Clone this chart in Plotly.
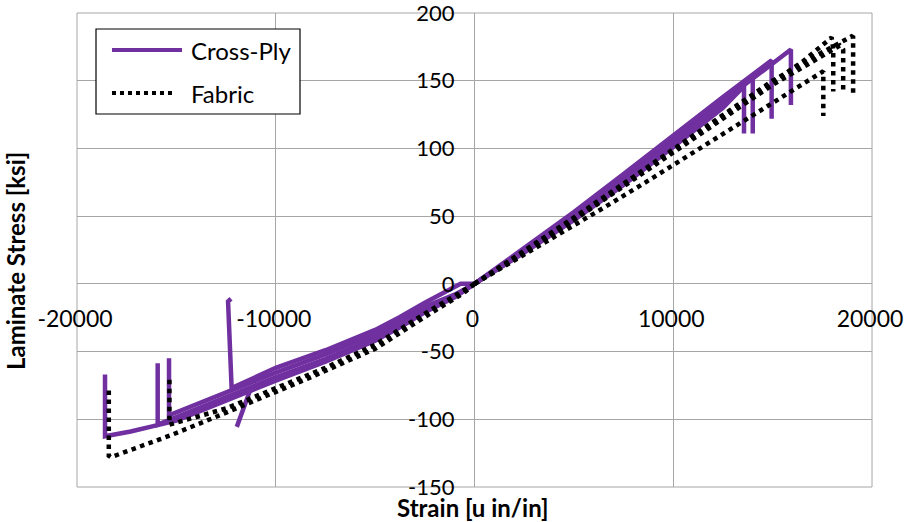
import plotly.graph_objects as go

PURPLE = "#7030A0"
BLACK = "#000000"
GRID = "#A6A6A6"
FONT = "Lato"

# Axis ticks
x_ticks = [-20000, -10000, 0, 10000, 20000]
y_ticks = [-150, -100, -50, 0, 50, 100, 150, 200]

# Cross-ply specimens, tension (strain [u in/in], stress [ksi])
xp_t1_strain = [0, 2500, 5000, 7500, 10000, 12500, 14950, 15920, 15920]
xp_t1_stress = [0, 25, 51, 79, 107, 135, 163, 173, 132]
xp_t2_strain = [0, 2500, 5000, 7500, 10000, 12500, 14950, 14950]
xp_t2_stress = [0, 26, 53, 81, 110, 138, 165, 122]
xp_t3_strain = [0, 2500, 5000, 7500, 10000, 12500, 14000, 14000]
xp_t3_stress = [0, 24, 49, 76, 104, 133, 153, 111]
xp_t4_strain = [0, 2500, 5000, 7500, 10000, 12500, 13560, 13560]
xp_t4_stress = [0, 23, 47, 73, 101, 130, 146, 111]

# Cross-ply specimens, compression
xp_c1_strain = [0, -1000, -2500, -3750, -5000, -7500, -10000, -12500, -15000, -16000, -17300, -18590, -18590]
xp_c1_stress = [0, -10, -21, -32, -42, -57.5, -71.5, -86.5, -101, -104.5, -109, -112.5, -67]
xp_c2_strain = [0, -1000, -2500, -3750, -5000, -7500, -10000, -12500, -15000, -15940, -15940]
xp_c2_stress = [0, -9, -19, -30, -40, -55.5, -69, -84, -99, -104, -58.6]
xp_c3_strain = [0, -1000, -2500, -3750, -5000, -7500, -10000, -12500, -15370, -15370]
xp_c3_stress = [0, -8, -17, -27.5, -37, -52, -65.5, -80.5, -97, -55]
xp_c4_strain = [0, -700, -2500, -3750, -5000, -7500, -10000, -12220, -12400, -12250]
xp_c4_stress = [0, 0, -14, -24.5, -34, -49, -62, -77, -13, -11]
xp_c5_strain = [0, -1000, -2500, -3750, -5000, -7500, -10000, -11300, -11960]
xp_c5_stress = [0, -9, -20, -31, -41, -56.5, -70, -79, -105.6]

# Fabric specimens, tension
fb_t1_strain = [0, 2000, 4130, 6480, 8500, 10340, 12500, 15200, 17550, 17550]
fb_t1_stress = [0, 17, 36, 56, 74, 91, 111, 135, 157, 124]
fb_t2_strain = [0, 2500, 5000, 7500, 10000, 12500, 15000, 16500, 17970, 18050, 18050]
fb_t2_stress = [0, 23, 48, 73, 98, 123, 149, 164, 182, 173, 142]
fb_t3_strain = [0, 2500, 5000, 7500, 10000, 12500, 15000, 17000, 18380, 18550, 18550]
fb_t3_stress = [0, 23, 47, 72, 97, 122, 147, 164, 176, 173, 142]
fb_t4_strain = [0, 2500, 5000, 7500, 10000, 12500, 15000, 17000, 18970, 19050, 19050]
fb_t4_stress = [0, 24, 49, 74, 99, 124, 150, 167, 182.7, 182, 139.6]

# Fabric specimens, compression
fb_c1_strain = [0, -560, -2240, -5000, -8400, -10790, -13140, -15320, -17000, -18300, -18400, -18400]
fb_c1_stress = [0, -7, -22, -48, -70, -85, -99, -112, -121, -128, -127, -77]
fb_c2_strain = [0, -2500, -5000, -7500, -10000, -12500, -15350, -15350]
fb_c2_stress = [0, -22, -45, -62, -77, -92, -104, -70]

cross_ply = [
    (xp_t1_strain, xp_t1_stress), (xp_t2_strain, xp_t2_stress),
    (xp_t3_strain, xp_t3_stress), (xp_t4_strain, xp_t4_stress),
    (xp_c1_strain, xp_c1_stress), (xp_c2_strain, xp_c2_stress),
    (xp_c3_strain, xp_c3_stress), (xp_c4_strain, xp_c4_stress),
    (xp_c5_strain, xp_c5_stress),
]
fabric = [
    (fb_t1_strain, fb_t1_stress), (fb_t2_strain, fb_t2_stress),
    (fb_t3_strain, fb_t3_stress), (fb_t4_strain, fb_t4_stress),
    (fb_c1_strain, fb_c1_stress), (fb_c2_strain, fb_c2_stress),
]

fig = go.Figure()

for sx, sy in cross_ply:
    fig.add_trace(go.Scatter(
        x=sx, y=sy, mode="lines", name="Cross-Ply", legendgroup="xp",
        showlegend=False, line=dict(color=PURPLE, width=4.5),
    ))

for sx, sy in fabric:
    fig.add_trace(go.Scatter(
        x=sx, y=sy, mode="lines", name="Fabric", legendgroup="fb",
        showlegend=False, line=dict(color=BLACK, width=4.5, dash="dot"),
    ))

# Plot-area border in gridline grey
fig.add_shape(type="rect", xref="x domain", yref="y domain",
              x0=0, x1=1, y0=0, y1=1, line=dict(color=GRID, width=1), layer="below")

# Legend box drawn in axis-domain coordinates
fig.add_shape(type="rect", xref="x domain", yref="y domain",
              x0=0.0239, x1=0.2805, y0=0.7869, y1=0.9662,
              line=dict(color=BLACK, width=1.2), fillcolor="white", layer="above")
fig.add_shape(type="line", xref="x domain", yref="y domain",
              x0=0.044, x1=0.1321, y0=0.9219, y1=0.9219,
              line=dict(color=PURPLE, width=4), layer="above")
fig.add_shape(type="line", xref="x domain", yref="y domain",
              x0=0.044, x1=0.122, y0=0.8312, y1=0.8312,
              line=dict(color=BLACK, width=4, dash="dot"), layer="above")
for label, yy in (("Cross-Ply", 0.9219), ("Fabric", 0.8312)):
    fig.add_annotation(text=label, xref="x domain", yref="y domain",
                       x=0.1409, y=yy, xanchor="left", yanchor="middle",
                       showarrow=False, font=dict(family=FONT, size=24, color=BLACK))

# Axis titles
fig.add_annotation(text="<b>Strain [u in/in]</b>", xref="x domain", yref="y domain",
                   x=0.498, y=-0.043, xanchor="center", yanchor="middle",
                   showarrow=False, font=dict(family=FONT, size=24, color=BLACK))
fig.add_annotation(text="<b>Laminate Stress [ksi]</b>", xref="x domain", yref="y domain",
                   x=-0.0767, y=0.4768, xanchor="center", yanchor="middle", textangle=-90,
                   showarrow=False, font=dict(family=FONT, size=24, color=BLACK))

fig.update_layout(
    width=906, height=522,
    margin=dict(l=77, r=34, t=13, b=35, autoexpand=False),
    paper_bgcolor="white", plot_bgcolor="white",
    showlegend=False,
    font=dict(family=FONT, size=23, color=BLACK),
    xaxis=dict(
        range=[-20000, 20000], tickvals=x_ticks, ticktext=[str(v) for v in x_ticks],
        showgrid=True, gridcolor=GRID, gridwidth=1, zeroline=False, showline=False,
        ticks="", anchor="free", position=150 / 350, ticklabelstandoff=19,
        ticklabelshift=-2, ticklabeloverflow="allow", automargin=False,
        tickfont=dict(family=FONT, size=23, color=BLACK),
    ),
    yaxis=dict(
        range=[-150, 200], tickvals=y_ticks, ticktext=[str(v) for v in y_ticks],
        showgrid=True, gridcolor=GRID, gridwidth=1, zeroline=False, showline=False,
        ticks="", anchor="free", position=0.5, ticklabelstandoff=20,
        ticklabeloverflow="allow", automargin=False,
        tickfont=dict(family=FONT, size=22, color=BLACK),
    ),
)

fig.write_html("out.html")
